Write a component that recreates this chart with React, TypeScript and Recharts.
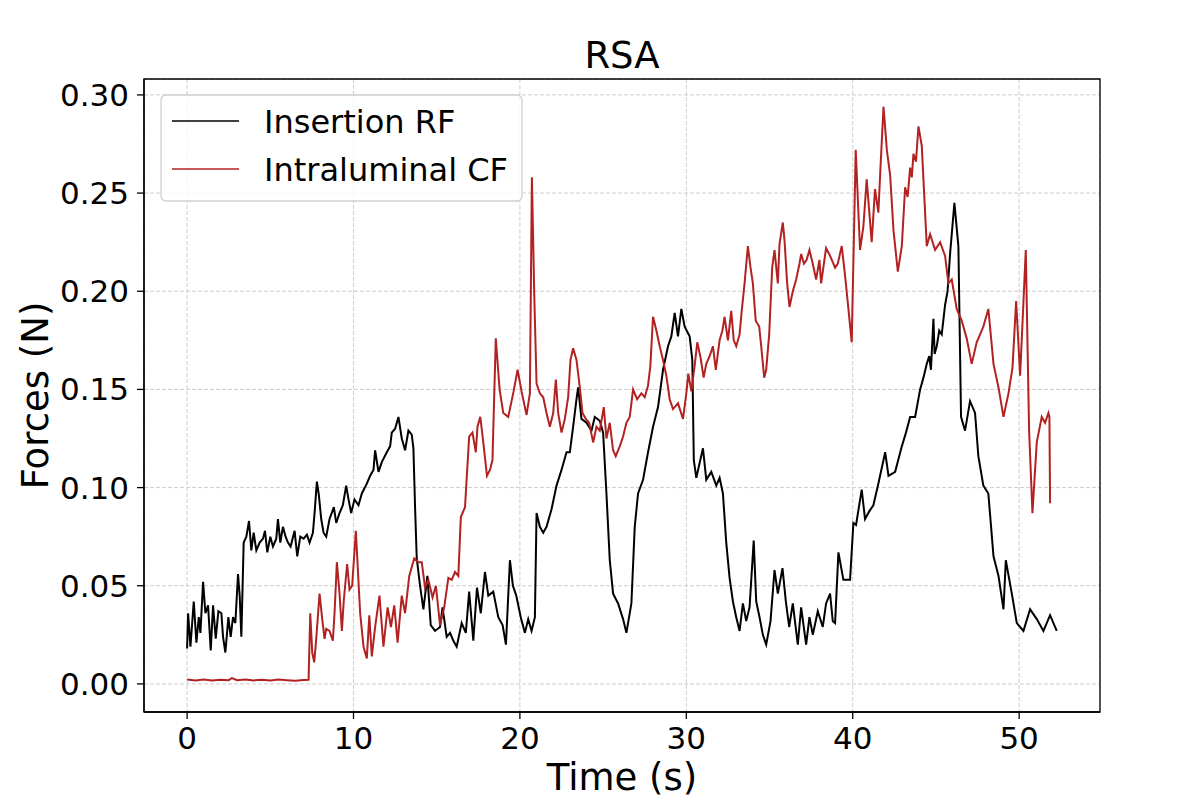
import React from 'react';
import { LineChart, Line, XAxis, YAxis, CartesianGrid, ReferenceArea } from 'recharts';

const rfTime = [
  0.0, 0.06, 0.2, 0.4, 0.56, 0.7, 0.8, 0.96, 1.1, 1.26, 1.42, 1.56, 1.72, 1.88, 2.06, 2.16, 2.3, 2.48, 2.62, 2.76, 2.9,
  3.06, 3.16, 3.26, 3.4, 3.56, 3.72, 3.86, 4.0, 4.16, 4.36, 4.56, 4.68, 4.82, 5.0, 5.16, 5.36, 5.46, 5.6, 5.76, 5.92,
  6.06, 6.22, 6.46, 6.62, 6.8, 7.0, 7.2, 7.36, 7.56, 7.66, 7.8, 7.92, 8.06, 8.2, 8.36, 8.56, 8.82, 8.96, 9.16, 9.36,
  9.56, 9.7, 9.86, 10.06, 10.3, 10.5, 10.8, 11.0, 11.2, 11.3, 11.5, 11.7, 12.0, 12.2, 12.3, 12.5, 12.7, 12.9, 13.1,
  13.3, 13.5, 13.6, 13.7, 13.8, 14.0, 14.2, 14.44, 14.64, 14.9, 15.2, 15.35, 15.6, 15.8, 16.0, 16.2, 16.5, 16.75,
  16.95, 17.2, 17.42, 17.65, 17.9, 18.1, 18.4, 18.7, 18.96, 19.16, 19.4, 19.58, 19.78, 20.05, 20.3, 20.5, 20.7, 20.9,
  21.0, 21.2, 21.4, 21.6, 21.9, 22.2, 22.5, 22.8, 23.0, 23.2, 23.4, 23.5, 23.7, 24.0, 24.3, 24.5, 24.8, 25.0, 25.2,
  25.4, 25.6, 25.9, 26.2, 26.4, 26.7, 26.9, 27.1, 27.4, 27.7, 28.0, 28.3, 28.6, 28.9, 29.1, 29.3, 29.5, 29.7, 29.9,
  30.2, 30.36, 30.45, 30.6, 31.0, 31.2, 31.5, 31.8, 32.0, 32.2, 32.4, 32.6, 32.8, 33.0, 33.2, 33.4, 33.6, 33.8, 34.05,
  34.2, 34.4, 34.6, 34.8, 35.06, 35.3, 35.5, 35.78, 35.98, 36.18, 36.4, 36.7, 36.9, 37.2, 37.4, 37.6, 37.9, 38.2,
  38.4, 38.64, 38.8, 38.94, 39.14, 39.44, 39.84, 40.04, 40.2, 40.54, 40.74, 41.0, 41.24, 41.54, 41.95, 42.15, 42.55,
  42.95, 43.2, 43.45, 43.75, 44.05, 44.25, 44.45, 44.6, 44.7, 44.85, 44.92, 45.05, 45.2, 45.35, 45.55, 45.7, 45.85,
  46.11, 46.35, 46.51, 46.75, 47.05, 47.35, 47.55, 47.85, 48.15, 48.46, 48.76, 49.06, 49.2, 49.56, 49.86, 50.26,
  50.66, 51.06, 51.46, 51.86, 52.26,
];
const rfForce = [
  0.018, 0.036, 0.019, 0.042, 0.021, 0.034, 0.026, 0.052, 0.036, 0.040, 0.017, 0.040, 0.023, 0.037, 0.036, 0.024, 0.016, 0.034, 0.024, 0.034, 0.031,
  0.056, 0.045, 0.024, 0.072, 0.075, 0.083, 0.068, 0.077, 0.068, 0.072, 0.074, 0.078, 0.067, 0.075, 0.070, 0.074, 0.084, 0.072, 0.080, 0.075,
  0.072, 0.070, 0.078, 0.065, 0.075, 0.074, 0.076, 0.072, 0.077, 0.087, 0.103, 0.096, 0.084, 0.077, 0.075, 0.084, 0.090, 0.082, 0.087, 0.091,
  0.101, 0.094, 0.087, 0.094, 0.091, 0.097, 0.102, 0.106, 0.109, 0.119, 0.108, 0.113, 0.118, 0.121, 0.128, 0.130, 0.136, 0.125, 0.119,
  0.129, 0.127, 0.120, 0.090, 0.064, 0.050, 0.038, 0.055, 0.030, 0.027, 0.029, 0.039, 0.024, 0.026, 0.022, 0.019, 0.031, 0.026,
  0.047, 0.022, 0.049, 0.036, 0.057, 0.045, 0.047, 0.034, 0.030, 0.020, 0.063, 0.050, 0.045, 0.034, 0.026, 0.033, 0.027, 0.034,
  0.087, 0.080, 0.077, 0.080, 0.089, 0.101, 0.109, 0.118, 0.118, 0.131, 0.145, 0.151, 0.135, 0.133, 0.129, 0.136, 0.134, 0.128, 0.097,
  0.063, 0.046, 0.041, 0.033, 0.026, 0.041, 0.080, 0.097, 0.104, 0.118, 0.131, 0.141, 0.160, 0.172, 0.177, 0.189, 0.177, 0.191, 0.182,
  0.177, 0.165, 0.114, 0.105, 0.120, 0.104, 0.108, 0.101, 0.105, 0.097, 0.072, 0.054, 0.042, 0.034, 0.027, 0.041, 0.032, 0.039, 0.073,
  0.042, 0.034, 0.025, 0.020, 0.032, 0.058, 0.046, 0.059, 0.042, 0.029, 0.041, 0.020, 0.039, 0.020, 0.034, 0.025, 0.037, 0.029,
  0.041, 0.046, 0.032, 0.031, 0.067, 0.053, 0.053, 0.082, 0.081, 0.099, 0.084, 0.088, 0.091, 0.102, 0.118, 0.106, 0.108,
  0.121, 0.128, 0.136, 0.136, 0.150, 0.156, 0.163, 0.167, 0.160, 0.186, 0.168, 0.172, 0.180, 0.178, 0.193, 0.200, 0.219,
  0.245, 0.223, 0.136, 0.129, 0.144, 0.138, 0.116, 0.101, 0.097, 0.065, 0.055, 0.038, 0.063, 0.046, 0.031, 0.027,
  0.038, 0.033, 0.027, 0.035, 0.027,
];

const cfTime = [
  0.0, 0.5, 1.0, 1.5, 2.0, 2.5, 2.7, 3.0, 3.5, 4.0, 4.5, 5.0, 5.5, 6.0, 6.5, 7.0, 7.3, 7.4, 7.52, 7.64, 7.76, 7.96,
  8.12, 8.26, 8.36, 8.56, 8.76, 8.86, 9.0, 9.16, 9.3, 9.42, 9.62, 9.76, 9.92, 10.14, 10.4, 10.6, 10.8, 10.95, 11.1,
  11.3, 11.56, 11.8, 12.05, 12.25, 12.45, 12.65, 12.9, 13.1, 13.35, 13.65, 13.9, 14.1, 14.3, 14.5, 14.75, 14.95, 15.2,
  15.45, 15.7, 15.9, 16.1, 16.3, 16.45, 16.7, 16.95, 17.15, 17.35, 17.45, 17.62, 17.8, 18.02, 18.2, 18.35, 18.55,
  18.78, 19.0, 19.3, 19.62, 19.86, 20.1, 20.4, 20.6, 20.72, 20.86, 21.0, 21.2, 21.4, 21.6, 21.8, 22.0, 22.16, 22.3,
  22.5, 22.7, 22.9, 23.04, 23.2, 23.4, 23.6, 23.76, 23.96, 24.16, 24.4, 24.6, 24.8, 25.04, 25.2, 25.4, 25.6, 25.76,
  26.0, 26.2, 26.4, 26.6, 26.8, 27.04, 27.3, 27.5, 27.7, 27.84, 28.0, 28.2, 28.4, 28.6, 28.8, 29.0, 29.2, 29.5, 29.8,
  30.0, 30.12, 30.3, 30.5, 30.66, 30.86, 31.04, 31.2, 31.4, 31.6, 31.77, 32.0, 32.17, 32.3, 32.5, 32.7, 32.85, 33.0,
  33.2, 33.33, 33.5, 33.7, 33.86, 34.0, 34.17, 34.38, 34.5, 34.68, 34.8, 34.98, 35.16, 35.3, 35.5, 35.6, 35.8, 35.9,
  36.06, 36.2, 36.4, 36.6, 36.8, 36.9, 37.07, 37.23, 37.4, 37.6, 37.8, 38.0, 38.1, 38.3, 38.4, 38.64, 38.94, 39.1,
  39.34, 39.54, 39.74, 39.94, 40.18, 40.44, 40.64, 40.84, 41.14, 41.34, 41.54, 41.68, 41.85, 42.05, 42.25, 42.45,
  42.71, 42.95, 43.15, 43.3, 43.45, 43.55, 43.65, 43.8, 43.95, 44.15, 44.45, 44.65, 44.95, 45.25, 45.55, 45.75, 45.95,
  46.25, 46.55, 46.85, 47.15, 47.45, 47.85, 48.15, 48.46, 48.76, 49.06, 49.36, 49.6, 49.82, 50.06, 50.4, 50.6, 50.8,
  51.06, 51.36, 51.56, 51.76, 51.82, 51.86,
];
const cfForce = [
  0.0022, 0.0018, 0.0022, 0.0017, 0.0021, 0.0019, 0.0030, 0.0019, 0.0022, 0.0018, 0.0021, 0.0017, 0.0022, 0.0019, 0.0016, 0.0020, 0.0021, 0.036, 0.016, 0.011, 0.023, 0.046,
  0.033, 0.023, 0.028, 0.027, 0.022, 0.036, 0.062, 0.046, 0.027, 0.043, 0.061, 0.048, 0.050, 0.078, 0.036, 0.019, 0.013, 0.035, 0.014,
  0.029, 0.045, 0.019, 0.039, 0.029, 0.040, 0.021, 0.045, 0.036, 0.055, 0.064, 0.062, 0.062, 0.049, 0.053, 0.044, 0.050, 0.030,
  0.039, 0.054, 0.053, 0.057, 0.055, 0.085, 0.090, 0.126, 0.128, 0.118, 0.131, 0.136, 0.123, 0.106, 0.109, 0.114, 0.176,
  0.150, 0.138, 0.136, 0.149, 0.160, 0.149, 0.137, 0.148, 0.258, 0.199, 0.153, 0.148, 0.146, 0.138, 0.131, 0.138, 0.155, 0.138,
  0.128, 0.135, 0.146, 0.165, 0.171, 0.165, 0.151, 0.138, 0.135, 0.133, 0.123, 0.131, 0.129, 0.141, 0.125, 0.133, 0.119, 0.116,
  0.121, 0.126, 0.133, 0.136, 0.150, 0.145, 0.148, 0.146, 0.152, 0.162, 0.187, 0.180, 0.172, 0.165, 0.157, 0.145, 0.140, 0.143, 0.135,
  0.148, 0.158, 0.149, 0.162, 0.174, 0.166, 0.156, 0.163, 0.167, 0.172, 0.160, 0.175, 0.180, 0.187, 0.175, 0.190, 0.175, 0.172,
  0.178, 0.190, 0.204, 0.223, 0.212, 0.204, 0.185, 0.182, 0.172, 0.156, 0.160, 0.178, 0.212, 0.221, 0.204, 0.224, 0.235, 0.226,
  0.204, 0.192, 0.200, 0.206, 0.214, 0.219, 0.214, 0.216, 0.221, 0.214, 0.206, 0.216, 0.204, 0.216, 0.222, 0.218, 0.212, 0.214,
  0.223, 0.208, 0.191, 0.174, 0.272, 0.221, 0.233, 0.257, 0.225, 0.252, 0.240, 0.265, 0.294, 0.272, 0.259, 0.231,
  0.210, 0.223, 0.253, 0.248, 0.263, 0.258, 0.270, 0.266, 0.284, 0.274, 0.223, 0.229, 0.221, 0.225, 0.218, 0.204, 0.206,
  0.191, 0.185, 0.176, 0.163, 0.174, 0.182, 0.191, 0.163, 0.151, 0.136, 0.148, 0.161, 0.195, 0.157, 0.221, 0.129, 0.087,
  0.123, 0.136, 0.133, 0.138, 0.136, 0.092,
];

const xTicks = [0, 10, 20, 30, 40, 50];
const yTicks = [0, 0.05, 0.1, 0.15, 0.2, 0.25, 0.3];
const seriesNames = ['Insertion RF', 'Intraluminal CF'];
const seriesColors = ['#000000', '#b22222'];

const X_DOMAIN: [number, number] = [-2.59, 54.86];
const Y_DOMAIN: [number, number] = [-0.0143, 0.3081];
const FONT = '"DejaVu Sans", sans-serif';

const rfData = rfTime.map((t, i) => ({ t, v: rfForce[i] }));
const cfData = cfTime.map((t, i) => ({ t, v: cfForce[i] }));

export default function App() {
  return (
    <div style={{ position: 'absolute', left: 0, top: 0, width: 1196, height: 802, background: '#fff', fontFamily: FONT }}>
      <LineChart width={1196} height={802} margin={{ top: 79, right: 96, bottom: 0, left: 0 }}>
        <CartesianGrid stroke="#cdcdcd" strokeDasharray="4 2" strokeWidth={1} />
        <XAxis
          dataKey="t"
          type="number"
          domain={X_DOMAIN}
          ticks={xTicks}
          allowDataOverflow
          height={90}
          tickSize={7}
          tickMargin={8}
          stroke="#000"
          tick={{ fill: '#000', fontSize: 31, fontFamily: FONT }}
          axisLine={{ stroke: '#000', strokeWidth: 1.3 }}
          tickLine={{ stroke: '#000', strokeWidth: 1.3 }}
          label={{ value: 'Time (s)', position: 'insideBottom', offset: 12, fontSize: 37, fill: '#000', fontFamily: FONT }}
        />
        <YAxis
          type="number"
          domain={Y_DOMAIN}
          ticks={yTicks}
          allowDataOverflow
          width={144}
          tickSize={7}
          tickMargin={8}
          stroke="#000"
          tickFormatter={(v: number) => v.toFixed(2)}
          tick={{ fill: '#000', fontSize: 31, fontFamily: FONT }}
          axisLine={{ stroke: '#000', strokeWidth: 1.3 }}
          tickLine={{ stroke: '#000', strokeWidth: 1.3 }}
          label={{
            value: 'Forces (N)',
            angle: -90,
            position: 'insideLeft',
            offset: 35,
            fontSize: 37,
            fill: '#000',
            fontFamily: FONT,
            style: { textAnchor: 'middle' },
          }}
        />
        <ReferenceArea
          x1={X_DOMAIN[0]}
          x2={X_DOMAIN[1]}
          y1={Y_DOMAIN[0]}
          y2={Y_DOMAIN[1]}
          fill="none"
          fillOpacity={0}
          stroke="#000"
          strokeWidth={1.3}
          ifOverflow="visible"
        />
        <Line data={rfData} dataKey="v" type="linear" dot={false} stroke={seriesColors[0]} strokeWidth={2} isAnimationActive={false} />
        <Line data={cfData} dataKey="v" type="linear" dot={false} stroke={seriesColors[1]} strokeWidth={2} isAnimationActive={false} />
      </LineChart>
      <svg width={1196} height={802} style={{ position: 'absolute', left: 0, top: 0, pointerEvents: 'none' }}>
        <text x={622} y={68} textAnchor="middle" fontSize={37} fontFamily={FONT} fill="#000">RSA</text>
        <rect x={161} y={95} width={361} height={106} rx={5} ry={5} fill="#ffffff" fillOpacity={0.8} stroke="#d0d0d0" strokeWidth={1.3} />
        {seriesNames.map((name, i) => (
          <g key={name}>
            <line x1={172} x2={239} y1={121 + i * 48} y2={121 + i * 48} stroke={seriesColors[i]} strokeWidth={1.6} />
            <text x={264} y={121 + i * 48} dy="0.36em" fontSize={32} fontFamily={FONT} fill="#000">{name}</text>
          </g>
        ))}
      </svg>
    </div>
  );
}
